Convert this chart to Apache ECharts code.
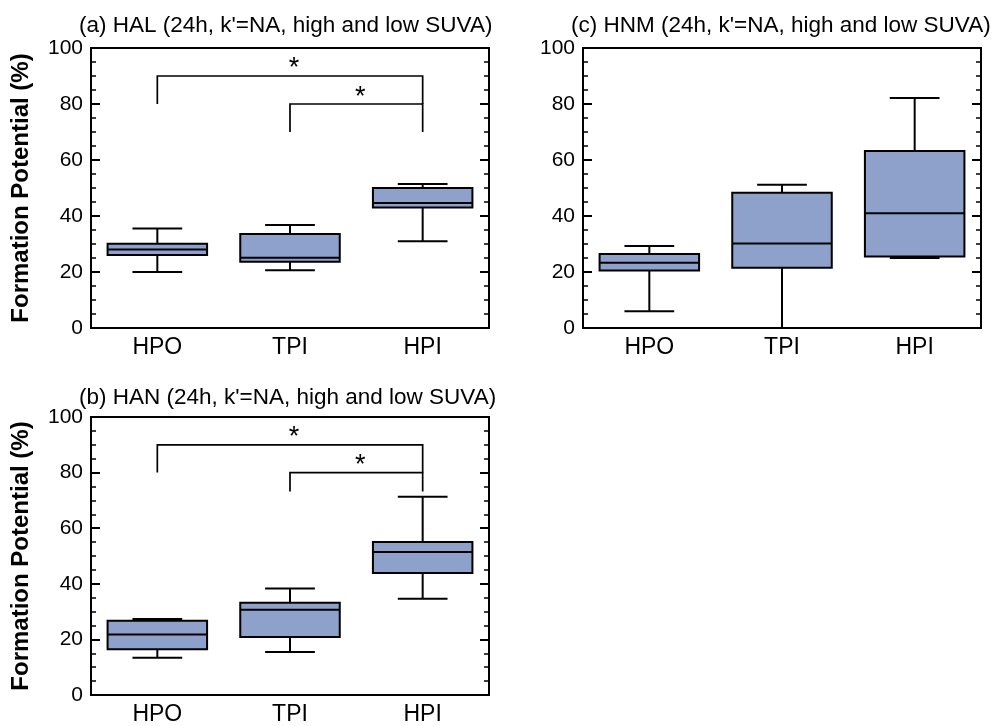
<!DOCTYPE html>
<html>
<head>
<meta charset="utf-8">
<script src="https://cdn.jsdelivr.net/npm/echarts@6/dist/echarts.min.js"></script>
<style>
  html, body { margin: 0; padding: 0; background: #fff; }
  #chart { width: 992px; height: 726px; }
</style>
</head>
<body>
<div id="chart"></div>
<script>
const categories = ['HPO', 'TPI', 'HPI'];

// each box: [low whisker, Q1, median, Q3, high whisker]
const halBoxes = [
  [20.0, 26.1, 28.0, 30.1, 35.5],
  [20.6, 23.7, 25.1, 33.6, 36.8],
  [31.0, 43.0, 44.6, 50.0, 51.4]
];
const hnmBoxes = [
  [6.0, 20.5, 23.3, 26.4, 29.3],
  [0.0, 21.5, 30.2, 48.3, 51.2],
  [25.0, 25.5, 41.0, 63.2, 82.1]
];
const hanBoxes = [
  [13.4, 16.5, 21.8, 26.7, 27.3],
  [15.5, 20.9, 30.7, 33.2, 38.3],
  [34.6, 43.9, 51.4, 55.0, 71.3]
];

// significance brackets: [from, to, bar y, left end y, right end y, star y]
const halBrackets = [
  [0, 2, 90, 80, 80, 94.9],
  [1, 2, 80, 70, 70, 84.6]
];
const hanBrackets = [
  [0, 2, 90, 80, 80, 94.6],
  [1, 2, 80, 73.2, 73.2, 84.6]
];

const titles = [
  '(a) HAL (24h, k\'=NA, high and low SUVA)',
  '(c) HNM (24h, k\'=NA, high and low SUVA)',
  '(b) HAN (24h, k\'=NA, high and low SUVA)'
];
const yTitle = 'Formation Potential (%)';

const FONT = '"Liberation Sans", Arial, sans-serif';
const BOX_COLOR = '#8DA1CB';

const chart = echarts.init(document.getElementById('chart'));

const grids = [
  { left: 91, top: 48, width: 398, height: 280 },
  { left: 583, top: 48, width: 398, height: 280 },
  { left: 91, top: 417, width: 398, height: 281 }
];

const renderBox = (params, api) => {
  const idx = api.value(0);
  const lo = api.coord([idx, api.value(1)]);
  const q1 = api.coord([idx, api.value(2)]);
  const med = api.coord([idx, api.value(3)]);
  const q3 = api.coord([idx, api.value(4)]);
  const hi = api.coord([idx, api.value(5)]);
  const band = api.size([1, 0])[0];
  const bw = band * 0.75, cw = band * 0.375;
  const x = lo[0];
  const ls = { stroke: '#000', lineWidth: 2 };
  return {
    type: 'group',
    children: [
      { type: 'line', shape: { x1: x, y1: q3[1], x2: x, y2: hi[1] }, style: ls },
      { type: 'line', shape: { x1: x, y1: q1[1], x2: x, y2: lo[1] }, style: ls },
      { type: 'line', shape: { x1: x - cw / 2, y1: hi[1], x2: x + cw / 2, y2: hi[1] }, style: ls },
      { type: 'line', shape: { x1: x - cw / 2, y1: lo[1], x2: x + cw / 2, y2: lo[1] }, style: ls },
      { type: 'rect', shape: { x: x - bw / 2, y: q3[1], width: bw, height: q1[1] - q3[1] },
        style: { fill: BOX_COLOR, stroke: '#000', lineWidth: 2 } },
      { type: 'line', shape: { x1: x - bw / 2, y1: med[1], x2: x + bw / 2, y2: med[1] }, style: ls }
    ]
  };
};

const renderBracket = (params, api) => {
  const a = api.coord([api.value(0), api.value(2)]);
  const b = api.coord([api.value(1), api.value(2)]);
  const aEnd = api.coord([api.value(0), api.value(3)]);
  const bEnd = api.coord([api.value(1), api.value(4)]);
  const star = api.coord([api.value(0), api.value(5)]);
  const ls = { stroke: '#000', lineWidth: 1.7, fill: null };
  return {
    type: 'group',
    children: [
      { type: 'polyline', shape: { points: [[aEnd[0], aEnd[1]], [a[0], a[1]], [b[0], b[1]], [bEnd[0], bEnd[1]]] }, style: ls },
      { type: 'text', x: (a[0] + b[0]) / 2 + 4, y: star[1] + 6,
        style: { text: '*', fill: '#000', font: '27px ' + FONT, textAlign: 'center', textVerticalAlign: 'middle' } }
    ]
  };
};

const xAxes = [], yAxes = [], series = [];
const boxSets = [halBoxes, hnmBoxes, hanBoxes];
const bracketSets = [halBrackets, null, hanBrackets];

grids.forEach((g, i) => {
  xAxes.push({
    type: 'category', gridIndex: i, data: categories, boundaryGap: true,
    axisLine: { show: false }, axisTick: { show: false },
    axisLabel: { color: '#000', fontSize: 23, fontFamily: FONT, margin: 8 },
    splitLine: { show: false }
  });
  const yBase = {
    type: 'value', gridIndex: i, min: 0, max: 100, interval: 20,
    axisLine: { show: false },
    axisTick: { show: true, inside: true, length: 9, lineStyle: { color: '#000', width: 2 } },
    minorTick: { show: true, splitNumber: 4, length: 5, lineStyle: { color: '#000', width: 1.5 } },
    splitLine: { show: false }
  };
  yAxes.push(Object.assign({}, yBase, {
    position: 'left',
    name: i === 1 ? '' : yTitle,
    nameLocation: 'middle', nameGap: 58,
    nameTextStyle: { color: '#000', fontSize: 24, fontWeight: 'bold', fontFamily: FONT },
    axisLabel: { color: '#000', fontSize: 21, fontFamily: FONT, margin: 8 }
  }));
  yAxes.push(Object.assign({}, yBase, {
    position: 'right',
    axisLabel: { show: false }
  }));
  series.push({
    type: 'custom', xAxisIndex: i, yAxisIndex: i * 2,
    renderItem: renderBox,
    data: boxSets[i].map((d, k) => [k].concat(d)),
    encode: { x: 0, y: [1, 2, 3, 4, 5] },
    silent: true, z: 3
  });
  if (bracketSets[i]) {
    series.push({
      type: 'custom', xAxisIndex: i, yAxisIndex: i * 2,
      renderItem: renderBracket,
      data: bracketSets[i],
      encode: { x: [0, 1], y: [2, 3, 4, 5] },
      silent: true, z: 4
    });
  }
});

const option = {
  backgroundColor: '#fff',
  animation: false,
  title: [
    { text: titles[0], left: 79, top: 14 },
    { text: titles[1], left: 571, top: 14 },
    { text: titles[2], left: 79, top: 386 }
  ].map(t => Object.assign(t, {
    padding: 0,
    textStyle: { color: '#000', fontSize: 22.5, fontWeight: 'normal', fontFamily: FONT }
  })),
  grid: grids.map(g => Object.assign({}, g, {
    show: true, borderColor: '#000', borderWidth: 2, backgroundColor: 'transparent'
  })),
  xAxis: xAxes,
  yAxis: yAxes,
  series: series
};

chart.setOption(option);
</script>
</body>
</html>
